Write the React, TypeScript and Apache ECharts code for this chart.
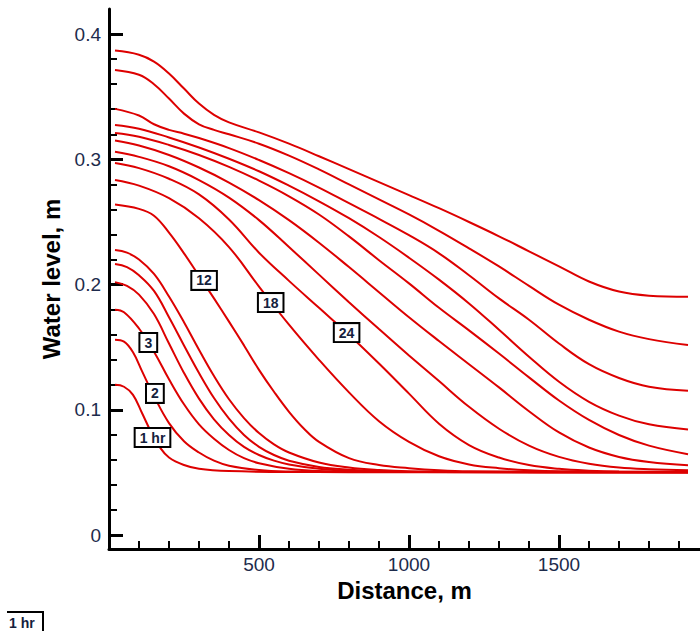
import React, { useEffect, useRef } from "react";
import * as echarts from "echarts";

type Pt = [number, number];

// Water-level profiles along the channel, one per elapsed time.
const times = ["1 hr", "2", "3", "4", "5", "6", "12", "18", "24", "30", "36", "42", "48", "54", "60", "66"];

const t01: Pt[] = [[20, 0.12], [50, 0.1185], [80, 0.112], [110, 0.0975], [140, 0.0825], [170, 0.07], [200, 0.062], [250, 0.056], [300, 0.053], [400, 0.0512], [600, 0.0505], [1930, 0.0503]];
const t02: Pt[] = [[20, 0.156], [50, 0.1545], [80, 0.146], [110, 0.131], [150, 0.111], [200, 0.0895], [250, 0.075], [300, 0.066], [350, 0.0595], [400, 0.0555], [500, 0.052], [600, 0.0508], [800, 0.0503], [1930, 0.0503]];
const t03: Pt[] = [[20, 0.18], [50, 0.178], [100, 0.165], [150, 0.1465], [200, 0.1245], [250, 0.1045], [300, 0.0885], [350, 0.077], [400, 0.068], [450, 0.0615], [500, 0.0575], [600, 0.053], [700, 0.0512], [850, 0.0505], [1930, 0.0503]];
const t04: Pt[] = [[20, 0.202], [60, 0.199], [100, 0.192], [150, 0.1765], [200, 0.153], [250, 0.1295], [300, 0.109], [350, 0.0925], [400, 0.08], [450, 0.0705], [500, 0.064], [550, 0.0595], [600, 0.0565], [700, 0.053], [800, 0.0514], [1000, 0.0505], [1930, 0.0503]];
const t05: Pt[] = [[20, 0.2165], [60, 0.214], [100, 0.2075], [150, 0.195], [200, 0.174], [250, 0.1515], [300, 0.1295], [350, 0.1095], [400, 0.093], [450, 0.08], [500, 0.0705], [550, 0.064], [600, 0.0595], [700, 0.0545], [800, 0.0523], [900, 0.0512], [1100, 0.0504], [1930, 0.0503]];
const t06: Pt[] = [[20, 0.2276], [60, 0.2255], [100, 0.22], [150, 0.2085], [200, 0.1905], [250, 0.17], [300, 0.148], [350, 0.127], [400, 0.1085], [450, 0.0935], [500, 0.0815], [550, 0.0725], [600, 0.066], [700, 0.058], [800, 0.054], [900, 0.052], [1000, 0.051], [1200, 0.0504], [1930, 0.0503]];
const t12: Pt[] = [[20, 0.264], [100, 0.2605], [150, 0.255], [200, 0.2415], [250, 0.225], [300, 0.207], [350, 0.189], [400, 0.1705], [450, 0.1515], [500, 0.132], [550, 0.1145], [600, 0.0985], [650, 0.085], [700, 0.0745], [800, 0.0615], [900, 0.056], [1000, 0.0535], [1100, 0.0518], [1200, 0.051], [1930, 0.0503]];
const t18: Pt[] = [[20, 0.2835], [100, 0.279], [200, 0.269], [300, 0.253], [400, 0.23], [500, 0.1985], [600, 0.168], [700, 0.14], [800, 0.114], [900, 0.091], [1000, 0.0745], [1100, 0.063], [1200, 0.0565], [1300, 0.0535], [1400, 0.0518], [1500, 0.051], [1930, 0.0504]];
const t24: Pt[] = [[20, 0.297], [100, 0.293], [200, 0.2845], [300, 0.272], [400, 0.252], [500, 0.2255], [600, 0.203], [700, 0.1815], [800, 0.16], [900, 0.137], [1000, 0.113], [1100, 0.089], [1200, 0.072], [1300, 0.062], [1400, 0.056], [1500, 0.053], [1600, 0.0515], [1700, 0.0508], [1930, 0.0505]];
const t30: Pt[] = [[20, 0.306], [100, 0.302], [200, 0.2945], [300, 0.2835], [400, 0.2695], [500, 0.2515], [600, 0.23], [700, 0.208], [800, 0.186], [900, 0.1645], [1000, 0.1435], [1100, 0.123], [1200, 0.1025], [1300, 0.085], [1400, 0.0715], [1500, 0.0625], [1600, 0.057], [1700, 0.054], [1800, 0.0527], [1930, 0.0519]];
const t36: Pt[] = [[20, 0.315], [100, 0.311], [200, 0.3035], [300, 0.2935], [400, 0.2815], [500, 0.2675], [600, 0.2515], [700, 0.2335], [800, 0.214], [900, 0.194], [1000, 0.174], [1100, 0.155], [1200, 0.1365], [1300, 0.118], [1400, 0.099], [1500, 0.082], [1600, 0.07], [1700, 0.0625], [1800, 0.0585], [1930, 0.0559]];
const t42: Pt[] = [[20, 0.321], [100, 0.318], [200, 0.3115], [300, 0.3035], [400, 0.294], [500, 0.283], [600, 0.2705], [700, 0.256], [800, 0.2385], [900, 0.2195], [1000, 0.201], [1100, 0.1815], [1200, 0.1635], [1300, 0.145], [1400, 0.126], [1500, 0.1075], [1600, 0.092], [1700, 0.08], [1800, 0.0715], [1930, 0.0647]];
const t48: Pt[] = [[20, 0.3275], [100, 0.3245], [200, 0.3175], [300, 0.3095], [400, 0.3005], [500, 0.2905], [600, 0.279], [700, 0.2665], [800, 0.253], [900, 0.238], [1000, 0.2215], [1100, 0.204], [1200, 0.185], [1300, 0.164], [1400, 0.1425], [1500, 0.1225], [1600, 0.1065], [1700, 0.0955], [1800, 0.0885], [1930, 0.0844]];
const t54: Pt[] = [[20, 0.3403], [100, 0.335], [150, 0.328], [200, 0.3235], [250, 0.3205], [300, 0.317], [400, 0.309], [500, 0.2995], [600, 0.289], [700, 0.2775], [800, 0.265], [900, 0.2525], [1000, 0.2395], [1100, 0.225], [1200, 0.2075], [1300, 0.189], [1400, 0.172], [1500, 0.153], [1600, 0.1365], [1700, 0.1255], [1800, 0.1185], [1930, 0.1153]];
const t60: Pt[] = [[20, 0.3714], [100, 0.3675], [150, 0.36], [200, 0.3485], [250, 0.3365], [300, 0.328], [350, 0.3235], [400, 0.32], [500, 0.3125], [600, 0.303], [700, 0.292], [800, 0.28], [900, 0.268], [1000, 0.256], [1100, 0.243], [1200, 0.229], [1300, 0.2145], [1400, 0.199], [1500, 0.184], [1600, 0.172], [1700, 0.1625], [1800, 0.1565], [1930, 0.1518]];
const t66: Pt[] = [[20, 0.3868], [100, 0.3835], [150, 0.378], [200, 0.3685], [250, 0.3565], [300, 0.3445], [350, 0.3355], [400, 0.3295], [500, 0.3215], [600, 0.3125], [700, 0.3025], [800, 0.2922], [900, 0.2818], [1000, 0.2715], [1100, 0.261], [1200, 0.25], [1300, 0.2386], [1400, 0.2266], [1500, 0.2146], [1600, 0.2025], [1700, 0.1945], [1800, 0.1912], [1930, 0.1903]];

const profiles: Pt[][] = [t01, t02, t03, t04, t05, t06, t12, t18, t24, t30, t36, t42, t48, t54, t60, t66];

// Boxed time tags placed on their profiles (distance, level).
const tagText = ["1 hr", "2", "3", "12", "18", "24"];
const tagAt: Pt[] = [[145, 0.0779], [153, 0.1132], [131, 0.1538], [317, 0.2034], [539, 0.1857], [792, 0.1617]];

const xMajor = [500, 1000, 1500];
const xMinor = [100, 200, 300, 400, 600, 700, 800, 900, 1100, 1200, 1300, 1400, 1600, 1700, 1800, 1900];
const yMajor = [0, 0.1, 0.2, 0.3, 0.4];
const yMinor = [0.02, 0.04, 0.06, 0.08, 0.12, 0.14, 0.16, 0.18, 0.22, 0.24, 0.26, 0.28, 0.32, 0.34, 0.36, 0.38];

const X_MIN = 0;
const X_MAX = 1970;
const Y_MIN = -0.011;
const Y_MAX = 0.42;

const FONT = "'Liberation Sans', Arial, Helvetica, sans-serif";
const LABEL_COLOR = "#1d2b4c";
const CURVE_COLOR = "#dd0000";

export default function App() {
  const ref = useRef<HTMLDivElement>(null);

  useEffect(() => {
    if (!ref.current) return;
    const chart = echarts.init(ref.current, undefined, { renderer: "svg" });

    const lineSeries = profiles.map((pts, i) => ({
      type: "line",
      name: times[i],
      data: pts,
      xAxisIndex: 0,
      yAxisIndex: 0,
      showSymbol: false,
      symbol: "none",
      smooth: 0.4,
      silent: true,
      lineStyle: { color: CURVE_COLOR, width: 2 },
      z: 2,
    }));

    const tagSeries = {
      type: "scatter",
      xAxisIndex: 0,
      yAxisIndex: 0,
      symbol: "rect",
      symbolSize: 1,
      silent: true,
      itemStyle: { color: "#ffffff", opacity: 1 },
      z: 5,
      data: tagAt.map((p, i) => ({
        value: p,
        label: { formatter: tagText[i] },
      })),
      label: {
        show: true,
        position: "inside",
        fontFamily: FONT,
        fontWeight: "bold",
        fontSize: 14,
        color: "#14213d",
        textBorderWidth: 0,
        backgroundColor: "#ffffff",
        borderColor: "#000000",
        borderWidth: 2,
        padding: [2, 4, 1, 4],
      },
    };

    const majorTick = { show: true, inside: true, length: 14, lineStyle: { color: "#000", width: 3 } };
    const minorTick = { show: true, inside: true, length: 8, lineStyle: { color: "#000", width: 2 } };

    chart.setOption({
      animation: false,
      backgroundColor: "#ffffff",
      grid: { left: 109, right: 0, top: 9, bottom: 82, containLabel: false },
      xAxis: [
        {
          type: "value",
          min: X_MIN,
          max: X_MAX,
          position: "bottom",
          axisLine: { show: true, onZero: false, lineStyle: { color: "#000", width: 3 } },
          axisTick: { ...majorTick, customValues: xMajor },
          axisLabel: {
            customValues: xMajor,
            formatter: (v: number) => String(v),
            fontFamily: FONT,
            fontSize: 19,
            color: LABEL_COLOR,
            margin: 6,
          },
          splitLine: { show: false },
          name: "Distance, m",
          nameLocation: "middle",
          nameGap: 23,
          nameTextStyle: { fontFamily: FONT, fontWeight: "bold", fontSize: 24, color: "#000" },
        },
        {
          type: "value",
          min: X_MIN,
          max: X_MAX,
          position: "bottom",
          offset: 0,
          axisLine: { show: false, onZero: false },
          axisTick: { ...minorTick, customValues: xMinor },
          axisLabel: { show: false },
          splitLine: { show: false },
        },
      ],
      yAxis: [
        {
          type: "value",
          min: Y_MIN,
          max: Y_MAX,
          position: "left",
          axisLine: { show: true, onZero: false, lineStyle: { color: "#000", width: 3 } },
          axisTick: { ...majorTick, customValues: yMajor },
          axisLabel: {
            customValues: yMajor,
            formatter: (v: number) => String(v),
            fontFamily: FONT,
            fontSize: 19,
            color: LABEL_COLOR,
            margin: 8,
          },
          splitLine: { show: false },
          name: "Water level, m",
          nameLocation: "middle",
          nameGap: 40,
          nameTextStyle: { fontFamily: FONT, fontWeight: "bold", fontSize: 24, color: "#000" },
        },
        {
          type: "value",
          min: Y_MIN,
          max: Y_MAX,
          position: "left",
          offset: 0,
          axisLine: { show: false, onZero: false },
          axisTick: { ...minorTick, customValues: yMinor },
          axisLabel: { show: false },
          splitLine: { show: false },
        },
      ],
      graphic: [
        {
          type: "polyline",
          silent: true,
          shape: { points: [[7, 612], [43, 612], [43, 633]] },
          style: { stroke: "#000", lineWidth: 2, fill: "none" },
        },
        {
          type: "text",
          silent: true,
          x: 9,
          y: 616,
          style: {
            text: "1 hr",
            fontFamily: FONT,
            fontWeight: "bold",
            fontSize: 14,
            fill: "#14213d",
            verticalAlign: "top",
          },
        },
      ],
      series: [...lineSeries, tagSeries],
    });

    return () => chart.dispose();
  }, []);

  return (
    <div
      ref={ref}
      style={{ position: "fixed", left: 0, top: 0, width: 700, height: 631, background: "#fff" }}
    />
  );
}
